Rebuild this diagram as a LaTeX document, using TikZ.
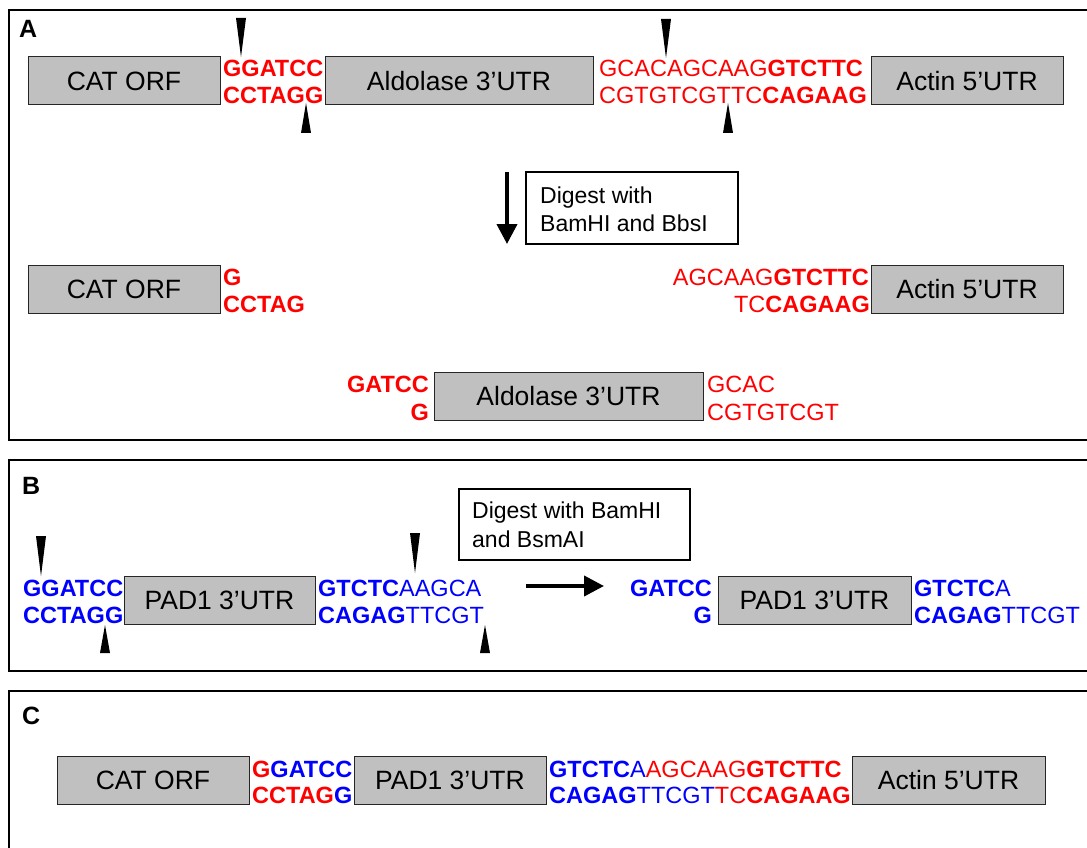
\documentclass[tikz,border=0pt]{standalone}
\usepackage{fontspec}
\setmainfont{Liberation Sans}
\usetikzlibrary{arrows.meta}
\definecolor{boxgray}{RGB}{192,192,192}
\definecolor{seqred}{RGB}{255,0,0}
\definecolor{seqblue}{RGB}{0,0,255}
\begin{document}
\begin{tikzpicture}[x=1pt,y=-1pt,
  panel/.style={draw=black,line width=1.5pt},
  gene/.style={draw=black!85,fill=boxgray,line width=1pt,minimum width=192pt,minimum height=48pt,inner sep=0pt,font=\fontsize{26.5}{30}\selectfont},
  seqw/.style={inner sep=0pt,anchor=base west,font=\fontsize{23.5}{27}\selectfont},
  seqe/.style={inner sep=0pt,anchor=base east,font=\fontsize{23.5}{27}\selectfont},
  plabel/.style={inner sep=0pt,anchor=base west,font=\fontsize{25}{30}\selectfont\bfseries},
  note/.style={draw=black,line width=1.3pt,fill=white,inner sep=0pt},
  notetext/.style={inner sep=0pt,anchor=base west,font=\fontsize{23}{27}\selectfont},
  cut/.style={fill=black},
  bigarrow/.style={line width=4pt,-{Triangle[width=20pt,length=20pt]}}
]
\useasboundingbox (0,0) rectangle (1087,848);
\fill[white] (0,0) rectangle (1087,848);

% panels
\draw[panel] (9,10) rectangle (1100,440);
\draw[panel] (9,460) rectangle (1100,671);
\draw[panel] (9,691) rectangle (1100,870);

% ---------------- Panel A ----------------
\node[plabel] (lA) at (19,38) {A};
\node[gene] (cat1) at (124,81) {CAT ORF};
\node[seqw,text=seqred] (s1t) at (223,77) {\textbf{GGATCC}};
\node[seqw,text=seqred] (s1b) at (223,104) {\textbf{CCTAGG}};
\node[gene,minimum width=268pt] (ald1) at (459,81) {Aldolase 3’UTR};
\node[seqw,text=seqred] (s2t) at (599,77) {GCACAGCAAG\textbf{GTCTTC}};
\node[seqw,text=seqred] (s2b) at (599,104) {CGTGTCGTTC\textbf{CAGAAG}};
\node[gene] (act1) at (967,81) {Actin 5’UTR};

\fill[cut] (236,18) -- (246,18) -- (241,57) -- cycle;
\fill[cut] (301,133) -- (311,133) -- (306,103) -- cycle;
\fill[cut] (661,19) -- (671,19) -- (666,58) -- cycle;
\fill[cut] (723,133) -- (733,133) -- (728,103) -- cycle;

\node[note,minimum width=212pt,minimum height=72pt] (dA) at (632,208) {};
\node[notetext] (dAt1) at (540,203) {Digest with};
\node[notetext] (dAt2) at (540,231) {BamHI and BbsI};
\coordinate (arA1) at (507,172);
\coordinate (arA2) at (507,244);
\draw[bigarrow] (arA1) -- (arA2);

\node[gene] (cat2) at (124,289) {CAT ORF};
\node[seqw,text=seqred] (s3t) at (223,285) {\textbf{G}};
\node[seqw,text=seqred] (s3b) at (223,312) {\textbf{CCTAG}};
\node[seqe,text=seqred] (s4t) at (869,285) {AGCAAG\textbf{GTCTTC}};
\node[seqe,text=seqred] (s4b) at (870,312) {TC\textbf{CAGAAG}};
\node[gene] (act2) at (967,289) {Actin 5’UTR};

\node[seqe,text=seqred] (s5t) at (429,392) {\textbf{GATCC}};
\node[seqe,text=seqred] (s5b) at (429,420) {\textbf{G}};
\node[gene,minimum width=269pt] (ald2) at (568.5,396.5) {Aldolase 3’UTR};
\node[seqw,text=seqred] (s6t) at (707,392) {GCAC};
\node[seqw,text=seqred] (s6b) at (707,420) {CGTGTCGT};

% ---------------- Panel B ----------------
\node[plabel] (lB) at (22,494) {B};
\node[seqw,text=seqblue] (b1t) at (23,596) {\textbf{GGATCC}};
\node[seqw,text=seqblue] (b1b) at (23,623) {\textbf{CCTAGG}};
\node[gene,minimum width=191pt] (pad1) at (219.5,600) {PAD1 3’UTR};
\node[seqw,text=seqblue] (b2t) at (318,596) {\textbf{GTCTC}AAGCA};
\node[seqw,text=seqblue] (b2b) at (318,623) {\textbf{CAGAG}TTCGT};

\fill[cut] (36,536) -- (46,536) -- (41,576) -- cycle;
\fill[cut] (410,533) -- (420,533) -- (415,573) -- cycle;
\fill[cut] (100,653) -- (110,653) -- (105,625) -- cycle;
\fill[cut] (480,653) -- (490,653) -- (485,625) -- cycle;

\node[note,minimum width=231pt,minimum height=71pt] (dB) at (574.5,524.5) {};
\node[notetext] (dBt1) at (472,518) {Digest with BamHI};
\node[notetext] (dBt2) at (472,547) {and BsmAI};
\coordinate (arB1) at (526,586);
\coordinate (arB2) at (604,586);
\draw[bigarrow] (arB1) -- (arB2);

\node[seqe,text=seqblue] (b3t) at (712,596) {\textbf{GATCC}};
\node[seqe,text=seqblue] (b3b) at (712,623) {\textbf{G}};
\node[gene,minimum width=193pt] (pad2) at (814.5,600) {PAD1 3’UTR};
\node[seqw,text=seqblue] (b4t) at (914,596) {\textbf{GTCTC}A};
\node[seqw,text=seqblue] (b4b) at (914,623) {\textbf{CAGAG}TTCGT};

% ---------------- Panel C ----------------
\node[plabel] (lC) at (22,724) {C};
\node[gene] (cat3) at (153,780.5) {CAT ORF};
\node[seqw] (c1t) at (252,777) {\textbf{\textcolor{seqred}{G}\textcolor{seqblue}{GATCC}}};
\node[seqw] (c1b) at (252,803) {\textbf{\textcolor{seqred}{CCTAG}\textcolor{seqblue}{G}}};
\node[gene] (pad3) at (450,780.5) {PAD1 3’UTR};
\node[seqw] (c2t) at (549,777) {\textcolor{seqblue}{\textbf{GTCTC}A}\textcolor{seqred}{AGCAAG\textbf{GTCTTC}}};
\node[seqw] (c2b) at (549,803) {\textcolor{seqblue}{\textbf{CAGAG}TTCGT}\textcolor{seqred}{TC\textbf{CAGAAG}}};
\node[gene,minimum width=193pt] (act3) at (948.5,780.5) {Actin 5’UTR};
\end{tikzpicture}
\end{document}
